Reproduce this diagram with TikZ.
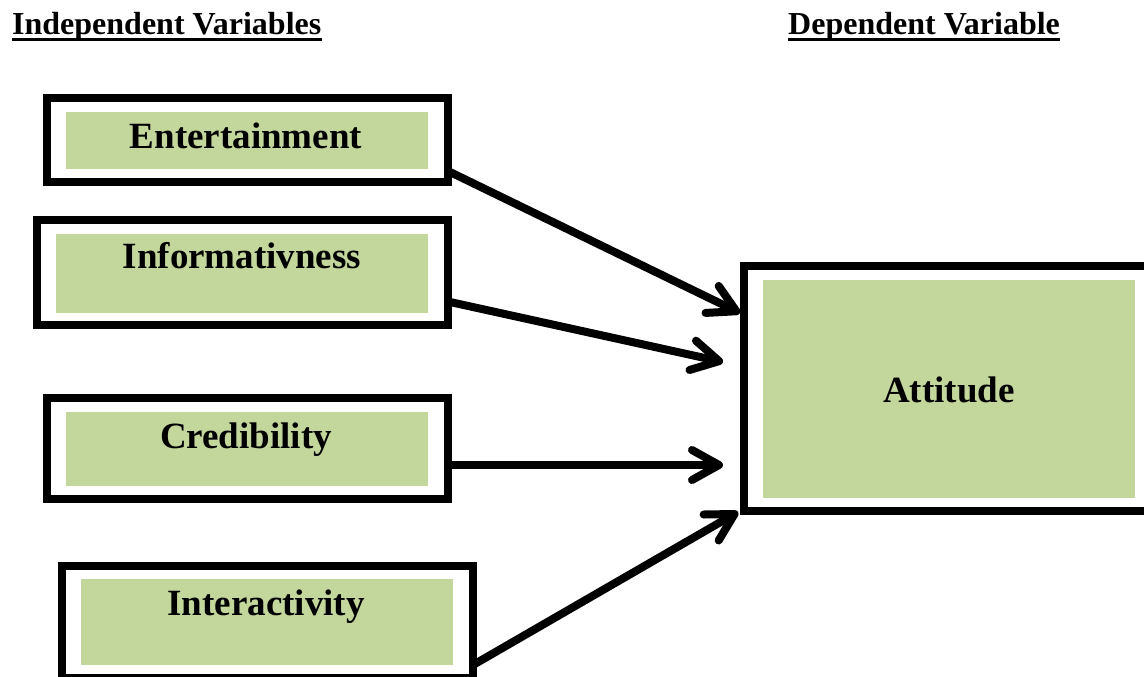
\documentclass[tikz,border=0pt]{standalone}
\usepackage{fontspec}
\setmainfont{Liberation Serif}
\usetikzlibrary{arrows.meta}
\definecolor{boxgreen}{HTML}{C3D69B}
\tikzset{
  outerbox/.style={draw=black, line width=8pt, fill=white, inner sep=0pt},
  innerbox/.style={fill=boxgreen, draw=none, inner sep=0pt},
  boxtext/.style={anchor=base, inner sep=0pt, font=\fontsize{37}{40}\selectfont\bfseries},
  headtext/.style={anchor=base west, inner sep=0pt, font=\fontsize{32}{36}\selectfont\bfseries},
  ul/.style={line width=3pt},
  arr/.style={line width=8pt, line cap=round, -{Straight Barb[round, length=27pt, width=30pt]}}
}
\begin{document}
\begin{tikzpicture}[x=1pt, y=-1pt]
\useasboundingbox (0,0) rectangle (1144,677);

% headers
\node[headtext] (h1) at (12,35) {Independent Variables};
\node[headtext] (h2) at (788,35) {Dependent Variable};
\draw[ul] ([yshift=-5pt]h1.base west) -- ([yshift=-5pt]h1.base east);
\draw[ul] ([yshift=-5pt]h2.base west) -- ([yshift=-5pt]h2.base east);

% outer boxes
\node[outerbox, minimum width=401pt, minimum height=84pt] (ent) at (247.5,140) {};
\node[outerbox, minimum width=411pt, minimum height=105pt] (inf) at (242.5,272.5) {};
\node[outerbox, minimum width=401pt, minimum height=101pt] (cred) at (247.5,448.5) {};
\node[outerbox, minimum width=411pt, minimum height=112pt] (int) at (267.5,622) {};
\node[outerbox, minimum width=410pt, minimum height=245pt] (att) at (949,388.5) {};

% inner green boxes
\node[innerbox, minimum width=362pt, minimum height=57pt] (entg) at (247,140.5) {};
\node[innerbox, minimum width=372pt, minimum height=79pt] (infg) at (242,273.5) {};
\node[innerbox, minimum width=362pt, minimum height=74pt] (credg) at (247,449) {};
\node[innerbox, minimum width=372pt, minimum height=86pt] (intg) at (267,622) {};
\node[innerbox, minimum width=372pt, minimum height=218pt] (attg) at (949,389) {};

% labels
\node[boxtext] (entt) at (246,148) {Entertainment};
\node[boxtext] (inft) at (242,268) {Informativness};
\node[boxtext] (credt) at (246,448) {Credibility};
\node[boxtext] (intt) at (266,615) {Interactivity};
\node[boxtext] (attt) at (949,402) {Attitude};

% connectors
\draw[arr] ([xshift=-2pt,yshift=14pt]ent.south east) -- ([yshift=75.5pt]att.west);
\draw[arr] ([xshift=-2pt,yshift=-29.5pt]inf.east) -- ([xshift=-17pt,yshift=26.5pt]att.west);
\draw[arr] ([xshift=-2pt,yshift=-16.5pt]cred.east) -- ([xshift=-17pt,yshift=-76.5pt]att.west);
\draw[arr] ([xshift=-4pt,yshift=17pt]int.south east) -- ([xshift=-2pt,yshift=3pt]att.south west);
\end{tikzpicture}
\end{document}
